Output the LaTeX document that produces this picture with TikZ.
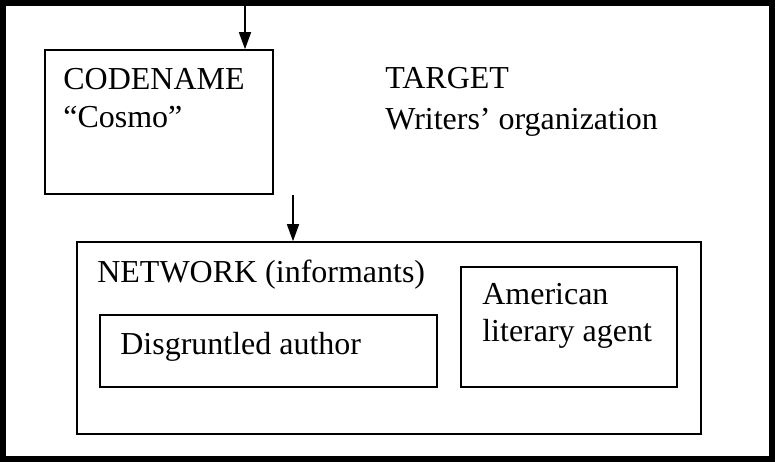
\documentclass[tikz,border=0pt]{standalone}
\usepackage{fontspec}
\setmainfont{Liberation Serif}
\usetikzlibrary{arrows.meta}

\tikzset{
    box/.style={draw, line width=0.9pt, inner sep=0pt},
    lbl/.style={anchor=base west, inner sep=0pt, font=\fontsize{18.2}{22}\selectfont},
    feed/.style={line width=0.9pt, -{Triangle[width=0.24cm,length=0.34cm]}}
}

\begin{document}
\begin{tikzpicture}

    \useasboundingbox (0,0) rectangle (15.5,9.24);
    \draw [line width=3.4pt] (0.06,0.06) rectangle (15.44,9.18);

    \node [box, minimum width=4.56cm, minimum height=2.88cm] (cosmo) at (3.18,6.8) {};
    \node [lbl] (codename) at (1.26,7.44) {CODENAME};
    \node [lbl] (cosmoname) at (1.26,6.68) {``Cosmo''};

    \node [lbl] (target) at (7.7,7.46) {TARGET};
    \node [lbl] (writers) at (7.7,6.64) {Writers' organization};

    \node [box, minimum width=12.48cm, minimum height=3.84cm] (network) at (7.78,2.48) {};
    \node [lbl] (netname) at (1.94,3.58) {NETWORK (informants)};

    \node [box, minimum width=6.74cm, minimum height=1.44cm] (author) at (5.37,2.22) {};
    \node [lbl] (authorname) at (2.4,2.14) {Disgruntled author};

    \node [box, minimum width=4.32cm, minimum height=2.4cm] (agent) at (11.38,2.7) {};
    \node [lbl] (agentname) at (9.64,3.14) {American};
    \node [lbl] (agentname2) at (9.64,2.4) {literary agent};

    \coordinate (entry) at (4.9,9.12);
    \coordinate (exit) at (5.86,0 |- cosmo.south);

    \draw [feed] (entry) -- (entry |- cosmo.north);
    \draw [feed] (exit) -- (exit |- network.north);

\end{tikzpicture}
\end{document}
